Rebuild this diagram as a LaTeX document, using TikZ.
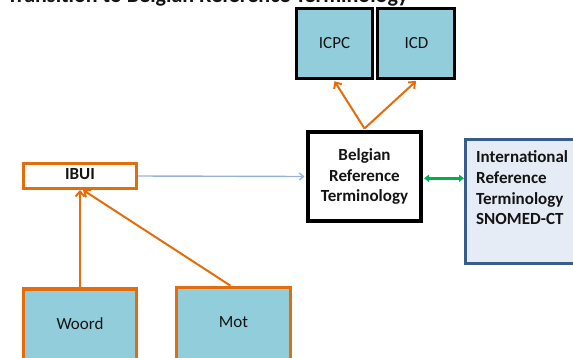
\documentclass[tikz,border=0pt]{standalone}
\usepackage{fontspec}
\setmainfont{Carlito}
\usetikzlibrary{arrows.meta}
\definecolor{boxblue}{RGB}{146,205,220}
\definecolor{orng}{RGB}{228,108,10}
\definecolor{navy}{RGB}{56,93,138}
\definecolor{paleblue}{RGB}{230,236,246}
\definecolor{lineblue}{RGB}{149,179,215}
\definecolor{grn}{RGB}{0,176,80}
\definecolor{txtdark}{RGB}{20,20,20}
\begin{document}
\begin{tikzpicture}[x=1pt,y=-1pt,
  lbl/.style={font=\fontsize{17}{20.7}\selectfont, text=txtdark, inner sep=0pt},
  blbl/.style={lbl, font=\fontsize{17}{20.7}\selectfont\bfseries},
  codebox/.style={draw=black, line width=3.3pt, fill=boxblue, inner sep=0pt},
  termbox/.style={draw=orng, line width=3.3pt, fill=boxblue, inner sep=0pt},
  ibuibox/.style={draw=orng, line width=3.3pt, fill=white, inner sep=0pt},
  belgbox/.style={draw=black, line width=4pt, fill=white, inner sep=0pt},
  intlbox/.style={draw=navy, line width=3.3pt, fill=paleblue, inner sep=0pt},
  orarrow/.style={draw=orng, line width=2pt, -{Straight Barb[length=5pt,width=9pt]}},
  bluearrow/.style={draw=lineblue, line width=1.4pt, -{Straight Barb[length=4pt,width=7pt]}},
  greenarrow/.style={draw=grn, line width=2.6pt, {Triangle[length=5pt,width=7pt]}-{Triangle[length=5pt,width=7pt]}}
]
\useasboundingbox (0,0) rectangle (573,357);
\clip (0,0) rectangle (573,357);

% title (cut off at the top)
\node[font=\fontsize{22}{25}\selectfont\bfseries, text=txtdark, inner sep=0pt, anchor=base west] (title) at (7,2.6) {Transition to Belgian Reference Terminology};

% code boxes
\node[codebox, minimum width=75.7pt, minimum height=69.7pt] (icpc) at (334.5,43.5) {};
\node[lbl] (icpclbl) at (334.5,43) {ICPC};
\node[codebox, minimum width=76.7pt, minimum height=69.7pt] (icd) at (416,43.5) {};
\node[lbl] (icdlbl) at (416.5,43) {ICD};

% Belgian reference terminology
\node[belgbox, minimum width=113pt, minimum height=89pt, align=center, blbl] (belg) at (364.5,176.5) {Belgian\\Reference\\Terminology};

% International
\node[intlbox, minimum width=150pt, minimum height=123.7pt] (intl) at (540.65,201.5) {};
\node[blbl, align=left, anchor=base west] (intllbl) at (476,224.8) {International\\Reference\\Terminology\\SNOMED-CT};

% IBUI
\node[ibuibox, minimum width=112.7pt, minimum height=24.7pt] (ibui) at (80,176) {};
\node[blbl] (ibuilbl) at (80,174) {IBUI};

% Woord / Mot
\node[termbox, minimum width=112.7pt, minimum height=100pt] (woord) at (80,338.95) {};
\node[lbl] (woordlbl) at (80,324) {Woord};
\node[termbox, minimum width=113.7pt, minimum height=100pt] (mot) at (233.5,337.35) {};
\node[lbl] (motlbl) at (233.5,322) {Mot};

% connectors
\draw[orarrow] (woord.north) -- (ibui.south);
\draw[orarrow] ([xshift=-3pt]mot.north) -- ([xshift=3pt]ibui.south);
\draw[orarrow] ([yshift=1.5pt]belg.north) -- ([yshift=-1.2pt]icpc.south);
\draw[orarrow] ([yshift=1.5pt]belg.north) -- ([yshift=-1.2pt]icd.south);
\draw[bluearrow] (ibui.east) -- ([xshift=-1.6pt]belg.west);
\draw[greenarrow] ([xshift=1pt,yshift=-1.8pt]belg.east) -- ([yshift=23.2pt]intl.west);
\end{tikzpicture}
\end{document}
